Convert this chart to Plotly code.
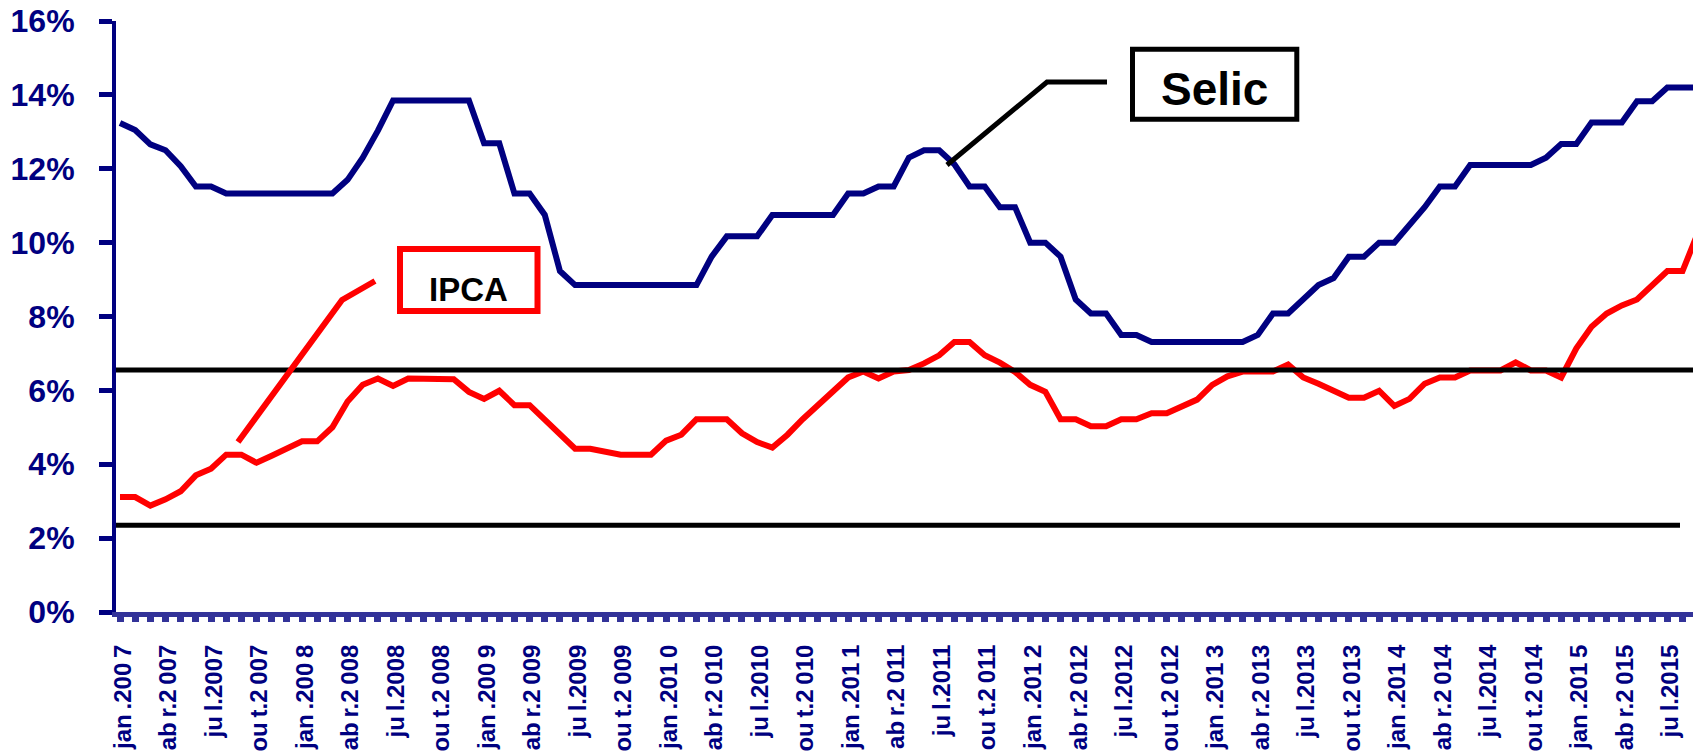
import plotly.graph_objects as go

# meses: indice 0 = jan/2007 ... 104 = set/2015
meses = list(range(105))

selic = [13.24, 13.05, 12.66, 12.5, 12.07, 11.52, 11.52, 11.33, 11.33, 11.33,
         11.33, 11.33, 11.33, 11.33, 11.33, 11.7, 12.3, 13.03, 13.85, 13.85,
         13.85, 13.85, 13.85, 13.85, 12.69, 12.69, 11.33, 11.33, 10.75, 9.23,
         8.85, 8.85, 8.85, 8.85, 8.85, 8.85, 8.85, 8.85, 8.85, 9.62,
         10.17, 10.17, 10.17, 10.75, 10.75, 10.75, 10.75, 10.75, 11.33, 11.33,
         11.52, 11.52, 12.3, 12.5, 12.5, 12.12, 11.52, 11.52, 10.96, 10.96,
         10.0, 10.0, 9.62, 8.46, 8.08, 8.08, 7.5, 7.5, 7.31, 7.31,
         7.31, 7.31, 7.31, 7.31, 7.31, 7.5, 8.08, 8.08, 8.46, 8.85,
         9.04, 9.62, 9.62, 10.0, 10.0, 10.48, 10.96, 11.52, 11.52, 12.1,
         12.1, 12.1, 12.1, 12.1, 12.3, 12.67, 12.67, 13.25, 13.25, 13.25,
         13.83, 13.83, 14.2, 14.2, 14.2]

ipca = [3.11, 3.11, 2.88, 3.05, 3.27, 3.7, 3.88, 4.26, 4.26, 4.04,
        4.23, 4.42, 4.62, 4.62, 5.0, 5.7, 6.15, 6.32, 6.12, 6.32,
        6.32, 6.32, 6.3, 5.96, 5.77, 5.99, 5.6, 5.6, 5.2, 4.8,
        4.42, 4.42, 4.35, 4.26, 4.26, 4.26, 4.64, 4.8, 5.22, 5.22,
        5.22, 4.84, 4.6, 4.45, 4.8, 5.22, 5.58, 5.96, 6.35, 6.51,
        6.32, 6.51, 6.55, 6.73, 6.95, 7.31, 7.31, 6.95, 6.75, 6.5,
        6.15, 5.96, 5.22, 5.22, 5.03, 5.03, 5.22, 5.22, 5.38, 5.38,
        5.58, 5.75, 6.15, 6.38, 6.51, 6.51, 6.51, 6.7, 6.35, 6.18,
        6.0, 5.8, 5.8, 5.99, 5.58, 5.77, 6.18, 6.35, 6.35, 6.54,
        6.54, 6.54, 6.76, 6.54, 6.54, 6.35, 7.14, 7.72, 8.08, 8.3,
        8.46, 8.85, 9.23, 9.23, 10.25]

S = "\u2009"  # espaco fino, como no grafico original
rotulos = [t.replace(" ", S) for t in [
    "jan .200 7", "ab r.2 007", "ju l.2007", "ou t.2 007",
    "jan .200 8", "ab r.2 008", "ju l.2008", "ou t.2 008",
    "jan .200 9", "ab r.2 009", "ju l.2009", "ou t.2 009",
    "jan .201 0", "ab r.2 010", "ju l.2010", "ou t.2 010",
    "jan .201 1", "ab r.2 011", "ju l.2011", "ou t.2 011",
    "jan .201 2", "ab r.2 012", "ju l.2012", "ou t.2 012",
    "jan .201 3", "ab r.2 013", "ju l.2013", "ou t.2 013",
    "jan .201 4", "ab r.2 014", "ju l.2014", "ou t.2 014",
    "jan .201 5", "ab r.2 015", "ju l.2015"]]

y_ticks = [0, 2, 4, 6, 8, 10, 12, 14, 16]
y_txt = ["0%", "2%", "4%", "6%", "8%", "10%", "12%", "14%", "16%"]

meta_sup = 6.55
meta_inf = 2.35

NAVY = "#000080"
FONTE = "Arial, Liberation Sans, sans-serif"

# ticks em todos os meses, rotulo a cada trimestre
tick_txt = [rotulos[m // 3] if m % 3 == 0 and m // 3 < len(rotulos) else "" for m in meses]

W, H = 1693, 754
L, T, B = 116, 21, 142
pw, ph = W - L, H - T - B


def px(X):
    return (X - L) / pw


def py(Y):
    return (H - B - Y) / ph


fig = go.Figure()
fig.add_trace(go.Scatter(x=meses, y=selic, mode="lines", name="Selic",
                         line=dict(color=NAVY, width=6)))
fig.add_trace(go.Scatter(x=meses, y=ipca, mode="lines", name="IPCA",
                         line=dict(color="#FF0000", width=6)))

shapes = [
    # faixas da meta
    dict(type="line", xref="paper", yref="y", x0=0, x1=1, y0=meta_sup, y1=meta_sup,
         line=dict(color="black", width=5)),
    dict(type="line", xref="paper", yref="y", x0=0, x1=px(1680), y0=meta_inf, y1=meta_inf,
         line=dict(color="black", width=5)),
    # caixa Selic
    dict(type="rect", xref="paper", yref="paper", x0=px(1132.5), x1=px(1296.8),
         y0=py(49.2), y1=py(119.2), line=dict(color="black", width=5)),
    dict(type="path", xref="paper", yref="paper",
         path="M %f,%f L %f,%f L %f,%f" % (px(947), py(165), px(1047), py(82), px(1107), py(82)),
         line=dict(color="black", width=5)),
    # caixa IPCA
    dict(type="rect", xref="paper", yref="paper", x0=px(400), x1=px(537.5),
         y0=py(249), y1=py(311), line=dict(color="#FF0000", width=6)),
    dict(type="path", xref="paper", yref="paper",
         path="M %f,%f L %f,%f L %f,%f" % (px(238), py(442), px(342), py(300), px(375), py(281)),
         line=dict(color="#FF0000", width=6)),
]

annotations = [
    dict(xref="paper", yref="paper", x=px(1214), y=py(89), text="Selic", showarrow=False,
         xanchor="center", yanchor="middle",
         font=dict(family=FONTE, size=46, color="black", weight="bold")),
    dict(xref="paper", yref="paper", x=px(468), y=py(289), text="IPCA", showarrow=False,
         xanchor="center", yanchor="middle",
         font=dict(family=FONTE, size=33, color="black", weight="bold")),
]

fig.update_layout(
    width=W, height=H,
    margin=dict(l=L, r=0, t=T, b=B, pad=0),
    paper_bgcolor="white", plot_bgcolor="white",
    showlegend=False,
    shapes=shapes, annotations=annotations,
    xaxis=dict(range=[-0.264, 103.69], tickmode="array", tickvals=meses, ticktext=tick_txt,
               tickangle=-90, ticks="outside", ticklen=5, tickwidth=7, tickcolor="#333399",
               showline=True, linecolor="#333399", linewidth=5,
               showgrid=False, zeroline=False, ticklabelstandoff=13, ticklabelshift=3,
               tickfont=dict(family=FONTE, size=24, color=NAVY, weight="bold")),
    yaxis=dict(range=[0, 16], tickmode="array", tickvals=y_ticks, ticktext=y_txt,
               ticks="outside", ticklen=13, tickwidth=5, tickcolor=NAVY,
               showline=True, linecolor=NAVY, linewidth=4,
               showgrid=False, zeroline=False, ticklabelstandoff=18,
               tickfont=dict(family=FONTE, size=32, color=NAVY, weight="bold")),
)

# a pagina tem margem padrao de 8px no body; remove para o grafico ocupar a janela toda
fig.write_html("out.html", config={"displayModeBar": False},
               post_script="document.body.style.margin='0';")
